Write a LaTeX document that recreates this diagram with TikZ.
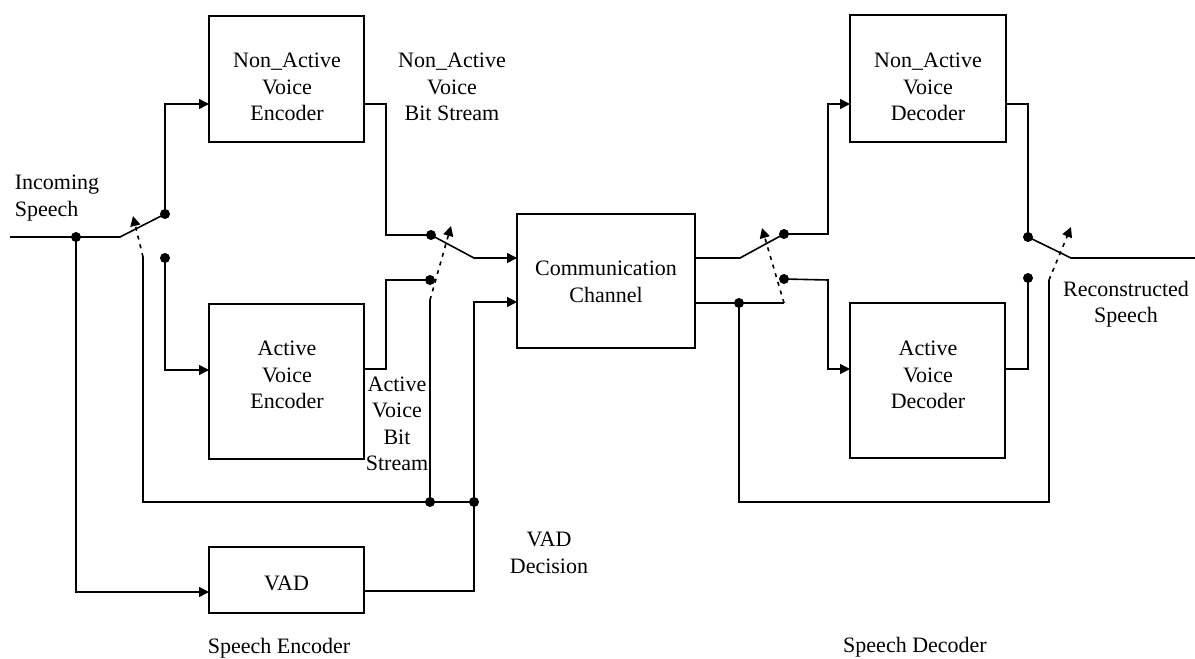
\documentclass[tikz,border=0pt]{standalone}
\usepackage{fontspec}
\setmainfont{Liberation Serif}
\usetikzlibrary{arrows.meta}
\begin{document}
\begin{tikzpicture}[x=1pt,y=-1pt,line width=1.6pt,
  blk/.style={draw,line width=1.6pt,inner sep=0pt},
  lbl/.style={align=center,font=\fontsize{22}{26.5}\selectfont,inner sep=0pt},
  arr/.style={-{Triangle[length=10pt,width=10pt]}},
  ctl/.style={dash pattern=on 4pt off 5pt,-{Triangle[length=10pt,width=10pt]}},
  dot/.style={circle,fill,inner sep=0pt,minimum size=10pt}]
\useasboundingbox (0,0) rectangle (1195,659);
% blocks
\node[blk,minimum width=155pt,minimum height=126pt] (nae) at (286.5,79) {};
\node[blk,minimum width=155pt,minimum height=155pt] (ave) at (286.5,381.5) {};
\node[blk,minimum width=155pt,minimum height=66pt] (vad) at (286.5,580) {};
\node[blk,minimum width=178pt,minimum height=134pt] (ch) at (606,281) {};
\node[blk,minimum width=156pt,minimum height=127pt] (nad) at (928,78.5) {};
\node[blk,minimum width=155pt,minimum height=155pt] (avd) at (927.5,380.5) {};
% texts
\node[lbl] (naet) at (287,87) {Non\_Active\\Voice\\Encoder};
\node[lbl] (avet) at (287,375) {Active\\Voice\\Encoder};
\node[lbl] (vadt) at (286.5,583) {VAD};
\node[lbl] (cht) at (606,282) {Communication\\Channel};
\node[lbl] (nadt) at (928,87) {Non\_Active\\Voice\\Decoder};
\node[lbl] (avdt) at (928,375) {Active\\Voice\\Decoder};
\node[lbl] (nbs) at (452,87) {Non\_Active\\Voice\\Bit Stream};
\node[lbl] (abs) at (397,424) {Active\\Voice\\Bit\\Stream};
\node[lbl,align=left,anchor=west] (inc) at (14,198) {Incoming\\Speech};
\node[lbl] (vdec) at (549,553) {VAD\\Decision};
\node[lbl] (rec) at (1126,304) {Reconstructed\\Speech};
\node[lbl] (se) at (279,648) {Speech Encoder};
\node[lbl] (sd) at (915,647) {Speech Decoder};
% ports
\coordinate (naein) at (209,104);
\coordinate (avein) at (209,370);
\coordinate (vadin) at (209,592);
\coordinate (naeout) at (364,104);
\coordinate (aveout) at (364,369);
\coordinate (vadout) at (364,591);
\coordinate (chin1) at (517,258);
\coordinate (chin2) at (517,302);
\coordinate (chout1) at (695,258);
\coordinate (chout2) at (695,303);
\coordinate (nadin) at (850,104);
\coordinate (avdin) at (850,369);
\coordinate (nadout) at (1006,104);
\coordinate (avdout) at (1005,369);
\coordinate (in0) at (10,237);
\coordinate (out0) at (1195,258);
% switch 1
\node[dot] (j1) at (76,237) {};
\coordinate (p1) at (120,237);
\node[dot] (s1a) at (165,214) {};
\node[dot] (s1b) at (165,258) {};
\coordinate (c1) at (143,257);
\coordinate (c1t) at (133,216);
\draw (in0) -- (j1.center) -- (p1) -- (s1a.center);
\draw[arr] (s1a.center) |- (naein);
\draw[arr] (s1b.center) |- (avein);
\draw[arr] (j1.center) |- (vadin);
\draw[ctl] (c1) -- (c1t);
\node[dot] (j2) at (430,502) {};
\node[dot] (j3) at (474,502) {};
\draw (c1) |- (j3.center);
% switch 2
\node[dot] (s2a) at (431,235) {};
\node[dot] (s2b) at (430,280) {};
\coordinate (k1) at (386,235);
\coordinate (k2) at (386,280);
\draw (naeout) -| (k1) -- (s2a.center);
\draw (aveout) -| (k2) -- (s2b.center);
\coordinate (b2) at (474,258);
\draw[arr] (s2a.center) -- (b2) -- (chin1);
\coordinate (c2) at (430,300);
\coordinate (c2t) at (451,226);
\draw[ctl] (c2) -- (c2t);
\draw (c2) -- (j2.center);
\coordinate (k3) at (474,302);
\draw[arr] (vadout) -| (k3) -- (chin2);
% switch 3
\node[dot] (s3a) at (784,234) {};
\node[dot] (s3b) at (784,279) {};
\coordinate (b3) at (740,258);
\draw (chout1) -- (b3) -- (s3a.center);
\coordinate (c3) at (784,303);
\coordinate (c3t) at (762,228);
\draw (chout2) -- (c3);
\draw[ctl] (c3) -- (c3t);
\node[dot] (j4) at (739,303) {};
\coordinate (k4) at (739,502);
\coordinate (c4) at (1049,280);
\coordinate (c4t) at (1071,227);
\draw (j4.center) -- (k4) -| (c4);
\draw[ctl] (c4) -- (c4t);
\coordinate (k5) at (828,234);
\coordinate (k6) at (828,280);
\draw[arr] (s3a.center) -- (k5) |- (nadin);
\draw[arr] (s3b.center) -- (k6) |- (avdin);
% switch 4
\node[dot] (s4a) at (1028,237) {};
\node[dot] (s4b) at (1028,278) {};
\draw (nadout) -| (s4a.center);
\draw (avdout) -| (s4b.center);
\coordinate (b4) at (1071,258);
\draw (s4a.center) -- (b4) -- (out0);
\end{tikzpicture}
\end{document}
